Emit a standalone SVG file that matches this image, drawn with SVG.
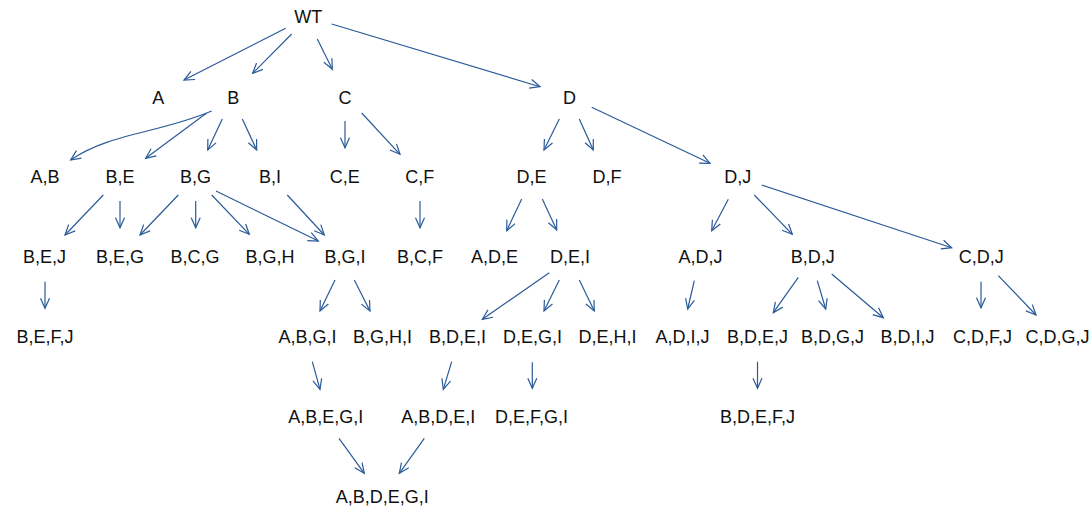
<svg xmlns="http://www.w3.org/2000/svg" width="1092" height="510" viewBox="0 0 1092 510">
<style>
text{font-family:"Liberation Sans",Arial,sans-serif;font-size:18px;fill:#111;text-anchor:middle}
.e path,.e line{stroke:#2a5a98;stroke-width:1.2;fill:none;marker-end:url(#ah)}
</style>
<defs>
<marker id="ah" markerUnits="userSpaceOnUse" markerWidth="14" markerHeight="12" viewBox="0 -6 14 12" refX="12" refY="0" orient="auto">
<path d="M2,-4.5 L12,0 L2,4.5" fill="none" stroke="#2a5a98" stroke-width="1.2"/>
</marker>
</defs>
<rect width="1092" height="510" fill="#fff"/>
<g class="e" id="connectors">
<line x1="285.7" y1="28.3" x2="184" y2="80"/>
<line x1="291.7" y1="34" x2="252.7" y2="73.3"/>
<line x1="317.3" y1="39" x2="332.3" y2="69.3"/>
<line x1="331.7" y1="24" x2="540" y2="86.7"/>
<path d="M211.7,111 C160,133 110,133 70.7,160"/>
<line x1="206.7" y1="113" x2="145.7" y2="158.3"/>
<line x1="222.3" y1="119" x2="207.7" y2="150"/>
<line x1="242.3" y1="119" x2="256.7" y2="150"/>
<line x1="345" y1="121" x2="345" y2="147.7"/>
<line x1="361.7" y1="113" x2="400" y2="154.3"/>
<line x1="559.3" y1="119" x2="544" y2="150"/>
<line x1="579.3" y1="119" x2="593.3" y2="150"/>
<line x1="591.7" y1="107.3" x2="710" y2="163.3"/>
<line x1="103.3" y1="195" x2="65" y2="235"/>
<line x1="120" y1="201" x2="120" y2="227.7"/>
<line x1="178.3" y1="195" x2="140" y2="235"/>
<line x1="195.7" y1="201" x2="195.7" y2="227.7"/>
<line x1="211.7" y1="195" x2="249.3" y2="234.3"/>
<line x1="216" y1="191" x2="318.3" y2="241"/>
<line x1="287.3" y1="195" x2="324.3" y2="235"/>
<line x1="420" y1="201" x2="420" y2="227.7"/>
<line x1="521.7" y1="199" x2="506.7" y2="230.7"/>
<line x1="542.3" y1="199" x2="556.7" y2="230"/>
<line x1="728.3" y1="199.3" x2="711.7" y2="230.7"/>
<line x1="754.3" y1="195" x2="792.3" y2="234.3"/>
<line x1="761.7" y1="185" x2="951.7" y2="247.7"/>
<line x1="45" y1="281.7" x2="45" y2="308.3"/>
<line x1="335" y1="280" x2="320" y2="311"/>
<line x1="354.3" y1="280" x2="370" y2="311"/>
<line x1="549.3" y1="272.7" x2="482.3" y2="319.3"/>
<line x1="559.3" y1="280" x2="544" y2="311"/>
<line x1="579.3" y1="280" x2="594.3" y2="311"/>
<line x1="694.3" y1="280.7" x2="687.7" y2="309"/>
<line x1="798.3" y1="277.3" x2="773.3" y2="312.7"/>
<line x1="817.3" y1="280.7" x2="825.7" y2="309"/>
<line x1="831.7" y1="274" x2="883.3" y2="317.7"/>
<line x1="981" y1="281.7" x2="981" y2="307.7"/>
<line x1="998.3" y1="275.7" x2="1036" y2="315"/>
<line x1="312.3" y1="361.7" x2="320" y2="389.3"/>
<line x1="451.7" y1="361.7" x2="443.3" y2="389.3"/>
<line x1="532.3" y1="362.3" x2="532.3" y2="388.3"/>
<line x1="757.5" y1="361.7" x2="757.5" y2="388.3"/>
<line x1="339" y1="438.3" x2="364.3" y2="473.3"/>
<line x1="424.3" y1="438.3" x2="399.3" y2="473.3"/>
</g>
<g id="n-WT"><text x="308.3" y="22.5">WT</text></g>
<g id="n-A"><text x="158.2" y="103.5">A</text></g>
<g id="n-B"><text x="233.2" y="103.5">B</text></g>
<g id="n-C"><text x="345" y="103.5">C</text></g>
<g id="n-D"><text x="569.5" y="103.5">D</text></g>
<g id="n-AB"><text x="45" y="182.5">A,B</text></g>
<g id="n-BE"><text x="120" y="182.5">B,E</text></g>
<g id="n-BG"><text x="195.5" y="182.5">B,G</text></g>
<g id="n-BI"><text x="270" y="182.5">B,I</text></g>
<g id="n-CE"><text x="344.7" y="182.5">C,E</text></g>
<g id="n-CF"><text x="419.7" y="182.5">C,F</text></g>
<g id="n-DE"><text x="531.5" y="182.5">D,E</text></g>
<g id="n-DF"><text x="607" y="182.5">D,F</text></g>
<g id="n-DJ"><text x="737.8" y="182.5">D,J</text></g>
<g id="n-BEJ"><text x="44.5" y="263">B,E,J</text></g>
<g id="n-BEG"><text x="120" y="263">B,E,G</text></g>
<g id="n-BCG"><text x="195" y="263">B,C,G</text></g>
<g id="n-BGH"><text x="270" y="263">B,G,H</text></g>
<g id="n-BGI"><text x="345" y="263">B,G,I</text></g>
<g id="n-BCF"><text x="420" y="263">B,C,F</text></g>
<g id="n-ADE"><text x="494.5" y="263">A,D,E</text></g>
<g id="n-DEI"><text x="570" y="263">D,E,I</text></g>
<g id="n-ADJ"><text x="700.5" y="263">A,D,J</text></g>
<g id="n-BDJ"><text x="812.8" y="263">B,D,J</text></g>
<g id="n-CDJ"><text x="981.3" y="263">C,D,J</text></g>
<g id="n-BEFJ"><text x="45" y="343">B,E,F,J</text></g>
<g id="n-ABGI"><text x="307.5" y="343">A,B,G,I</text></g>
<g id="n-BGHI"><text x="382.5" y="343">B,G,H,I</text></g>
<g id="n-BDEI"><text x="457.5" y="343">B,D,E,I</text></g>
<g id="n-DEGI"><text x="532.5" y="343">D,E,G,I</text></g>
<g id="n-DEHI"><text x="607.5" y="343">D,E,H,I</text></g>
<g id="n-ADIJ"><text x="682.5" y="343">A,D,I,J</text></g>
<g id="n-BDEJ"><text x="757.5" y="343">B,D,E,J</text></g>
<g id="n-BDGJ"><text x="832.5" y="343">B,D,G,J</text></g>
<g id="n-BDIJ"><text x="907.5" y="343">B,D,I,J</text></g>
<g id="n-CDFJ"><text x="982.5" y="343">C,D,F,J</text></g>
<g id="n-CDGJ"><text x="1057.5" y="343">C,D,G,J</text></g>
<g id="n-ABEGI"><text x="325.7" y="423">A,B,E,G,I</text></g>
<g id="n-ABDEI"><text x="438.3" y="423">A,B,D,E,I</text></g>
<g id="n-DEFGI"><text x="531.5" y="423">D,E,F,G,I</text></g>
<g id="n-BDEFJ"><text x="757.5" y="423">B,D,E,F,J</text></g>
<g id="n-ABDEGI"><text x="382.2" y="503">A,B,D,E,G,I</text></g>
</svg>
